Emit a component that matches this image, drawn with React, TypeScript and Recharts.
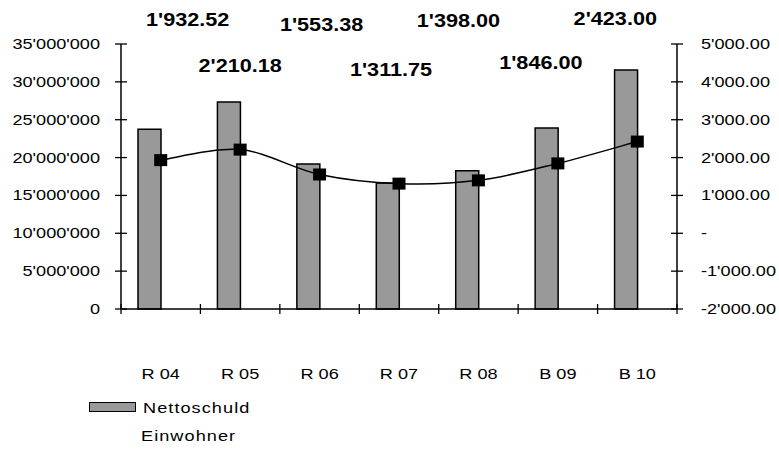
import React from 'react';
import { ComposedChart, Bar, Line, XAxis, YAxis, LabelList } from 'recharts';

const YEARS = ['R 04', 'R 05', 'R 06', 'R 07', 'R 08', 'B 09', 'B 10'];
const NETTOSCHULD = [23750000, 27350000, 19150000, 16650000, 18250000, 23900000, 31550000];
const PRO_EINWOHNER = [1932.52, 2210.18, 1553.38, 1311.75, 1398.0, 1846.0, 2423.0];
const LEFT_TICKS = [0, 5000000, 10000000, 15000000, 20000000, 25000000, 30000000, 35000000];
const RIGHT_TICKS = [-2000, -1000, 0, 1000, 2000, 3000, 4000, 5000];

const data = YEARS.map((year, i) => ({
  year,
  nettoschuld: NETTOSCHULD[i],
  proEinwohner: PRO_EINWOHNER[i],
}));

// plot frame
const WIDTH = 779;
const HEIGHT = 451;
const PLOT_LEFT = 121;
const PLOT_RIGHT = 677;
const PLOT_TOP = 44;
const PLOT_BOTTOM = 309;
const BAND = (PLOT_RIGHT - PLOT_LEFT) / YEARS.length;

// the value labels sit in two staggered rows above the plot
const LABEL_DX = [27, 0, 2, -8, -20, -17, -22];
const LABEL_Y = [19, 65, 24, 69, 20, 62, 18];

const FONT = '"Liberation Sans", Arial, sans-serif';
const STRETCH = 1.17; // text is drawn a little wider than tall

const withApostrophes = (s: string) => s.replace(/\B(?=(\d{3})+(?!\d))/g, "'");

const fmt = (n: number, decimals: number) => {
  const [int, dec] = Math.abs(n).toFixed(decimals).split('.');
  const out = withApostrophes(int) + (dec ? '.' + dec : '');
  return n < 0 ? '-' + out : out;
};

// smoothed line through the points (bezier with 1/6 tangents, Catmull-Rom style)
const smoothCurve = (context: any) => {
  let pts: [number, number][] = [];
  return {
    areaStart() {},
    areaEnd() {},
    lineStart() {
      pts = [];
    },
    point(x: number, y: number) {
      pts.push([+x, +y]);
    },
    lineEnd() {
      if (!pts.length) return;
      context.moveTo(pts[0][0], pts[0][1]);
      for (let i = 0; i < pts.length - 1; i++) {
        const p0 = pts[i - 1] || pts[i];
        const p1 = pts[i];
        const p2 = pts[i + 1];
        const p3 = pts[i + 2] || p2;
        context.bezierCurveTo(
          p1[0] + (p2[0] - p0[0]) / 6,
          p1[1] + (p2[1] - p0[1]) / 6,
          p2[0] - (p3[0] - p1[0]) / 6,
          p2[1] - (p3[1] - p1[1]) / 6,
          p2[0],
          p2[1]
        );
      }
    },
  };
};

const Txt = ({ x, y, anchor = 'start', size = 15.5, bold = false, children }: any) => (
  <text
    transform={`translate(${x},${y}) scale(${STRETCH},1)`}
    textAnchor={anchor}
    fontSize={size}
    fontWeight={bold ? 'bold' : 'normal'}
    fill="#000"
    fontFamily={FONT}
  >
    {children}
  </text>
);

const LeftTick = ({ y, payload }: any) => (
  <g>
    <line x1={PLOT_LEFT - 6} x2={PLOT_LEFT + 6} y1={y} y2={y} stroke="#000" strokeWidth={1.3} />
    <Txt x={PLOT_LEFT - 21} y={y + 5} anchor="end">
      {fmt(payload.value, 0)}
    </Txt>
  </g>
);

const RightTick = ({ y, payload }: any) => (
  <g>
    <line x1={PLOT_RIGHT - 6} x2={PLOT_RIGHT + 6} y1={y} y2={y} stroke="#000" strokeWidth={1.3} />
    <Txt x={PLOT_RIGHT + 24} y={y + 5}>
      {payload.value === 0 ? '-' : fmt(payload.value, 2)}
    </Txt>
  </g>
);

const CategoryTick = ({ x, payload, index }: any) => (
  <g>
    <line x1={x - BAND / 2} x2={x - BAND / 2} y1={PLOT_BOTTOM - 5} y2={PLOT_BOTTOM + 5} stroke="#000" strokeWidth={1.3} />
    {index === YEARS.length - 1 && (
      <line x1={x + BAND / 2} x2={x + BAND / 2} y1={PLOT_BOTTOM - 5} y2={PLOT_BOTTOM + 5} stroke="#000" strokeWidth={1.3} />
    )}
    <Txt x={x} y={379} anchor="middle">
      {payload.value}
    </Txt>
  </g>
);

const SquareDot = ({ cx, cy }: any) => <rect x={cx - 6.5} y={cy - 6} width={13} height={12} fill="#000" />;

const ValueLabel = ({ x, value, index }: any) => (
  <Txt x={x + LABEL_DX[index]} y={LABEL_Y[index] + 6.6} anchor="middle" size={18.5} bold>
    {fmt(value, 2)}
  </Txt>
);

const legendText: React.CSSProperties = {
  position: 'absolute',
  fontSize: 15.5,
  lineHeight: '16px',
  letterSpacing: 0.9,
  color: '#000',
  transform: `scaleX(${STRETCH})`,
  transformOrigin: 'left center',
  whiteSpace: 'nowrap',
};

export default function App() {
  return (
    <div style={{ position: 'absolute', left: 0, top: 0, width: WIDTH, height: HEIGHT, background: '#fff', fontFamily: FONT }}>
      <ComposedChart
        width={WIDTH}
        height={HEIGHT}
        data={data}
        barGap={0}
        margin={{ top: PLOT_TOP, right: 2, bottom: HEIGHT - PLOT_BOTTOM - 80, left: 11 }}
      >
        <XAxis
          dataKey="year"
          height={80}
          interval={0}
          tickLine={false}
          axisLine={{ stroke: '#000', strokeWidth: 1.5 }}
          tick={<CategoryTick />}
        />
        <YAxis
          yAxisId="left"
          width={110}
          domain={[0, 35000000]}
          ticks={LEFT_TICKS}
          tickLine={false}
          axisLine={{ stroke: '#000', strokeWidth: 1.5 }}
          tick={<LeftTick />}
        />
        <YAxis
          yAxisId="right"
          orientation="right"
          width={100}
          domain={[-2000, 5000]}
          ticks={RIGHT_TICKS}
          tickLine={false}
          axisLine={{ stroke: '#000', strokeWidth: 1.5 }}
          tick={<RightTick />}
        />
        <Bar
          yAxisId="left"
          dataKey="nettoschuld"
          name="Nettoschuld"
          barSize={23}
          fill="#999999"
          stroke="#000"
          strokeWidth={1.5}
          isAnimationActive={false}
        />
        <Bar yAxisId="left" dataKey="einwohner" name="Einwohner" barSize={23} fill="none" isAnimationActive={false} />
        <Line
          yAxisId="right"
          dataKey="proEinwohner"
          type={smoothCurve as any}
          stroke="#000"
          strokeWidth={1.5}
          dot={<SquareDot />}
          activeDot={false}
          isAnimationActive={false}
        >
          <LabelList dataKey="proEinwohner" content={<ValueLabel />} />
        </Line>
      </ComposedChart>

      <div
        style={{
          position: 'absolute',
          left: 89,
          top: 402,
          width: 47,
          height: 10,
          boxSizing: 'border-box',
          background: '#999999',
          border: '1.5px solid #000',
        }}
      />
      <div style={{ ...legendText, left: 143, top: 400 }}>Nettoschuld</div>
      <div style={{ ...legendText, left: 141, top: 428 }}>Einwohner</div>
    </div>
  );
}
